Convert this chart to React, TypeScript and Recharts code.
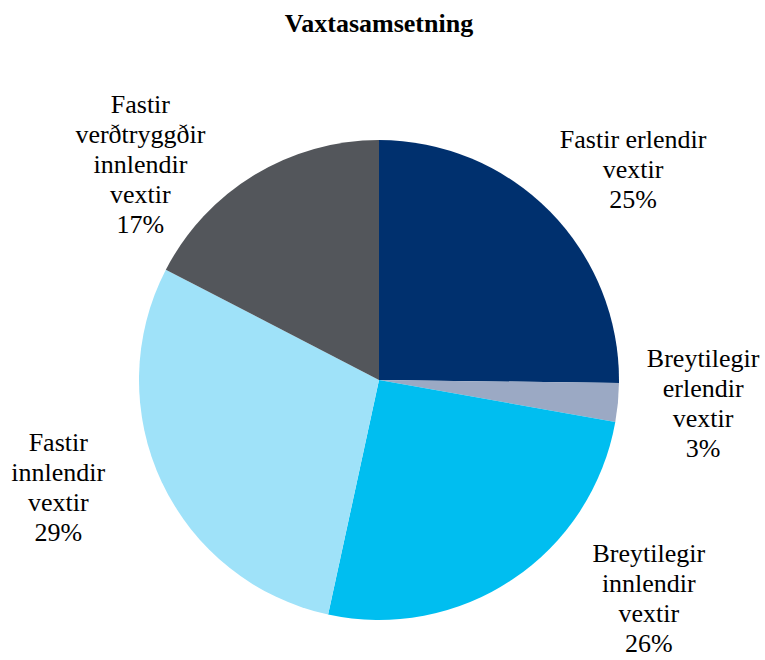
import React from "react";
import { Cell, Pie, PieChart } from "recharts";

// Vaxtasamsetning – skipting lána eftir tegund vaxta
const categories = [
  "Fastir erlendir vextir",
  "Breytilegir erlendir vextir",
  "Breytilegir innlendir vextir",
  "Fastir innlendir vextir",
  "Fastir verðtryggðir innlendir vextir",
];

// línuskipting merkimiða eins og í frumritinu
const labelLines = [
  ["Fastir erlendir", "vextir"],
  ["Breytilegir", "erlendir", "vextir"],
  ["Breytilegir", "innlendir", "vextir"],
  ["Fastir", "innlendir", "vextir"],
  ["Fastir", "verðtryggðir", "innlendir", "vextir"],
];

const shares = [25.2, 2.6, 25.6, 29.2, 17.4];

const COLORS = ["#00306E", "#9BA9C4", "#00BEF0", "#9FE2F9", "#53565B"];

// staðsetning merkimiða: hliðrun horns og fjarlægð frá jaðri
const LABEL_POS = [
  { dA: -5, dr: 90 },
  { dA: 1.3, dr: 85 },
  { dA: 17.2, dr: 107 },
  { dA: -6.8, dr: 98 },
  { dA: 16.5, dr: 82 },
];

const FONT = "'Liberation Serif', 'Times New Roman', serif";
const RAD = Math.PI / 180;
const LINE_H = 30;

const data = categories.map((name, i) => ({ name, value: shares[i] }));

function SliceLabel(props: any) {
  const { cx, cy, midAngle, outerRadius, index, percent } = props;
  const pos = LABEL_POS[index];
  const a = (midAngle + pos.dA) * RAD;
  const r = outerRadius + pos.dr;
  const x = cx + r * Math.cos(-a);
  const y = cy + r * Math.sin(-a);
  const lines = [...labelLines[index], `${Math.round(percent * 100)}%`];
  const firstBaseline = y - ((lines.length - 1) * LINE_H) / 2 + 9;
  return (
    <text
      x={x}
      y={firstBaseline}
      textAnchor="middle"
      fontFamily={FONT}
      fontSize={26}
      fill="#000"
    >
      {lines.map((l, i) => (
        <tspan key={i} x={x} dy={i === 0 ? 0 : LINE_H}>
          {l}
        </tspan>
      ))}
    </text>
  );
}

export default function App() {
  return (
    <div
      style={{
        position: "absolute",
        left: 0,
        top: 0,
        width: 765,
        height: 660,
        background: "#fff",
      }}
    >
      <div
        style={{
          position: "absolute",
          left: 0,
          top: 9,
          width: 758,
          textAlign: "center",
          fontFamily: FONT,
          fontWeight: 700,
          fontSize: 26,
          lineHeight: "30px",
        }}
      >
        Vaxtasamsetning
      </div>
      <PieChart width={765} height={660}>
        <Pie
          data={data}
          dataKey="value"
          nameKey="name"
          cx={374}
          cy={375}
          outerRadius={240}
          startAngle={90}
          endAngle={-270}
          stroke="none"
          labelLine={false}
          label={SliceLabel}
          isAnimationActive={false}
        >
          {data.map((d, i) => (
            <Cell key={d.name} fill={COLORS[i]} />
          ))}
        </Pie>
      </PieChart>
    </div>
  );
}
